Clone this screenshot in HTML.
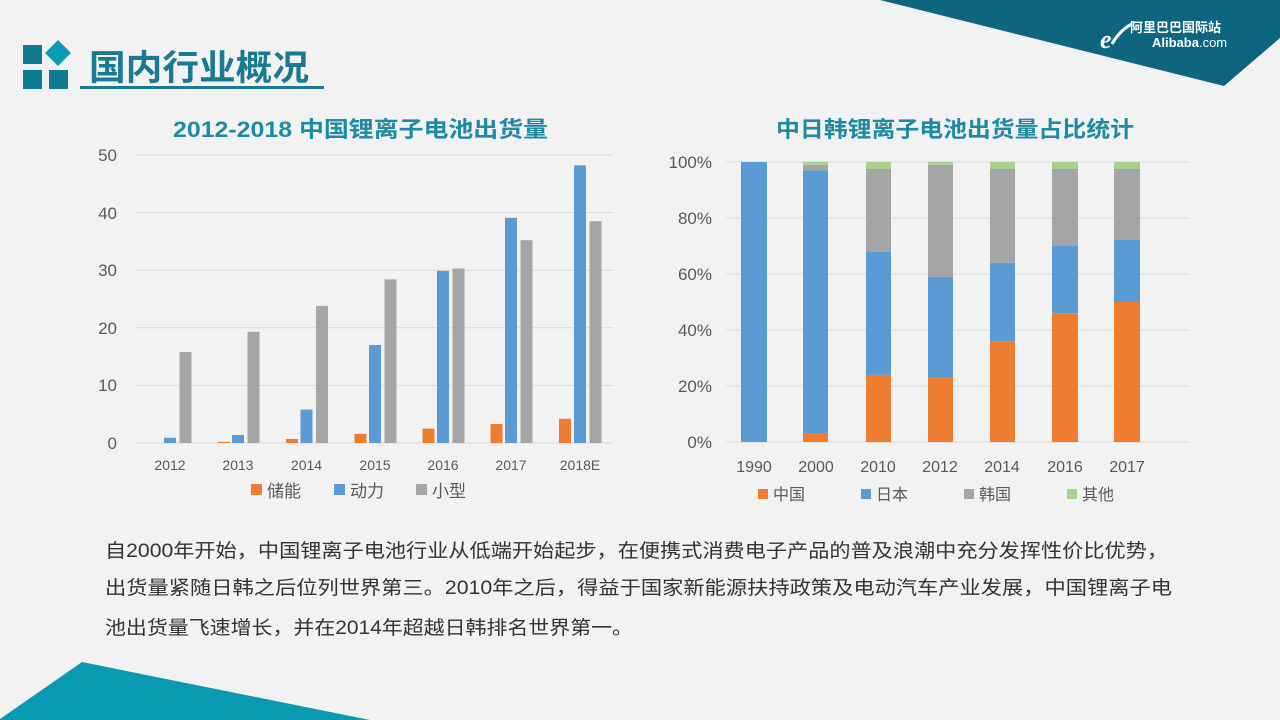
<!DOCTYPE html>
<html><head><meta charset="utf-8"><style>
html,body{margin:0;padding:0;background:#f2f2f2;}
svg{display:block;font-family:"Liberation Sans","Noto Sans CJK SC",sans-serif;}
</style></head><body>
<svg width="1280" height="720" viewBox="0 0 1280 720" xmlns="http://www.w3.org/2000/svg">
<rect width="1280" height="720" fill="#f2f2f2"/>
<polygon points="880,0 1280,0 1280,38 1224,86" fill="#0e6580"/>
<text x="1130" y="32" fill="#fff" font-size="13" font-weight="bold" font-family="Noto Sans CJK SC,sans-serif">阿里巴巴国际站</text>
<text x="1152" y="47" fill="#fff" font-size="13" font-weight="bold">Alibaba<tspan font-weight="normal">.com</tspan></text>
<text x="1100" y="48" fill="#fff" font-size="26" font-style="italic" font-weight="bold" font-family="Liberation Serif,serif">e</text>
<path d="M1112,44 q8,-14 20,-20" stroke="#fff" stroke-width="3" fill="none"/>
<polygon points="0,719 82,662 370,720 0,720" fill="#0a9bb3"/>
<rect x="23" y="45" width="19" height="19" fill="#0e7a93"/>
<rect x="23" y="70" width="19" height="19" fill="#0e7a93"/>
<rect x="49" y="70" width="19" height="19" fill="#0e7a93"/>
<polygon points="58,40 71,53 58,66 45,53" fill="#0a9bb3"/>
<text x="89" y="80" font-size="35" font-weight="bold" fill="#1a7a92" font-family="Noto Sans CJK SC,sans-serif" textLength="220" lengthAdjust="spacingAndGlyphs">国内行业概况</text>
<rect x="80" y="86" width="244" height="3" fill="#1a7a92"/>
<text x="173" y="137" font-size="22" font-weight="bold" fill="#1f8aa3" textLength="375" lengthAdjust="spacingAndGlyphs">2012-2018 中国锂离子电池出货量</text>
<text x="776" y="137" font-size="22" font-weight="bold" fill="#1f8aa3" textLength="358" lengthAdjust="spacingAndGlyphs">中日韩锂离子电池出货量占比统计</text>
<g stroke="#d9d9d9" stroke-width="1">
<line x1="136" x2="613" y1="155" y2="155"/><line x1="136" x2="613" y1="212.6" y2="212.6"/><line x1="136" x2="613" y1="270.2" y2="270.2"/><line x1="136" x2="613" y1="327.8" y2="327.8"/><line x1="136" x2="613" y1="385.4" y2="385.4"/><line x1="136" x2="613" y1="443" y2="443"/>
<line x1="726" x2="1190" y1="162" y2="162"/><line x1="726" x2="1190" y1="218" y2="218"/><line x1="726" x2="1190" y1="274" y2="274"/><line x1="726" x2="1190" y1="330" y2="330"/><line x1="726" x2="1190" y1="386" y2="386"/><line x1="726" x2="1190" y1="442" y2="442"/>
</g>
<g font-size="17" fill="#595959" text-anchor="end">
<text x="117" y="161">50</text><text x="117" y="219">40</text><text x="117" y="276">30</text><text x="117" y="334">20</text><text x="117" y="391">10</text><text x="117" y="449">0</text>
<text x="712" y="168">100%</text><text x="712" y="224">80%</text><text x="712" y="280">60%</text><text x="712" y="336">40%</text><text x="712" y="392">20%</text><text x="712" y="448">0%</text>
</g>
<g font-size="14" fill="#595959" text-anchor="middle">
<text x="170" y="470">2012</text><text x="238" y="470">2013</text><text x="306.5" y="470">2014</text><text x="375" y="470">2015</text><text x="443" y="470">2016</text><text x="511" y="470">2017</text><text x="580" y="470">2018E</text>
</g>
<g font-size="16" fill="#595959" text-anchor="middle">
<text x="754" y="472">1990</text><text x="816" y="472">2000</text><text x="878" y="472">2010</text><text x="940" y="472">2012</text><text x="1002" y="472">2014</text><text x="1065" y="472">2016</text><text x="1127" y="472">2017</text>
</g>
<g font-size="17" fill="#595959">
<rect x="251" y="484" width="11" height="11" fill="#ed7d31"/><text x="267" y="497">储能</text>
<rect x="334" y="484" width="11" height="11" fill="#5b9bd5"/><text x="350" y="497">动力</text>
<rect x="416" y="484" width="11" height="11" fill="#a5a5a5"/><text x="432" y="497">小型</text>
</g>
<g font-size="16" fill="#595959">
<rect x="758" y="489" width="10" height="10" fill="#ed7d31"/><text x="773" y="500">中国</text>
<rect x="861" y="489" width="10" height="10" fill="#5b9bd5"/><text x="876" y="500">日本</text>
<rect x="964" y="489" width="10" height="10" fill="#a5a5a5"/><text x="979" y="500">韩国</text>
<rect x="1067" y="489" width="10" height="10" fill="#a9d18e"/><text x="1082" y="500">其他</text>
</g>
<g font-size="19" fill="#333">
<text x="105" y="557" textLength="1063" lengthAdjust="spacingAndGlyphs">自2000年开始，中国锂离子电池行业从低端开始起步，在便携式消费电子产品的普及浪潮中充分发挥性价比优势，</text>
<text x="105" y="594" textLength="1067" lengthAdjust="spacingAndGlyphs">出货量紧随日韩之后位列世界第三。2010年之后，得益于国家新能源扶持政策及电动汽车产业发展，中国锂离子电</text>
<text x="105" y="634" textLength="528" lengthAdjust="spacingAndGlyphs">池出货量飞速增长，并在2014年超越日韩排名世界第一。</text>
</g>
<g fill="#ed7d31">
<rect x="218" y="441.8" width="12" height="1.2"/>
<rect x="286" y="439" width="12" height="4"/>
<rect x="354.5" y="433.8" width="12" height="9.2"/>
<rect x="422.5" y="428.6" width="12" height="14.4"/>
<rect x="490.5" y="424" width="12" height="19"/>
<rect x="559" y="418.8" width="12" height="24.2"/>
</g>
<g fill="#5b9bd5">
<rect x="164" y="437.8" width="12" height="5.2"/>
<rect x="232" y="435" width="12" height="8"/>
<rect x="300.5" y="409.6" width="12" height="33.4"/>
<rect x="369" y="345" width="12" height="98"/>
<rect x="437" y="270.8" width="12" height="172.2"/>
<rect x="505" y="217.8" width="12" height="225.2"/>
<rect x="574" y="165.4" width="12" height="277.6"/>
</g>
<g fill="#a5a5a5">
<rect x="179.5" y="352" width="12" height="91"/>
<rect x="247.5" y="331.8" width="12" height="111.2"/>
<rect x="316" y="305.9" width="12" height="137.1"/>
<rect x="384.5" y="279.4" width="12" height="163.6"/>
<rect x="452.5" y="268.5" width="12" height="174.5"/>
<rect x="520.5" y="240.2" width="12" height="202.8"/>
<rect x="589.5" y="221.2" width="12" height="221.8"/>
</g>
<g>
<rect x="741" y="162" width="26" height="280" fill="#5b9bd5"/>
<rect x="803" y="433.6" width="25" height="8.4" fill="#ed7d31"/>
<rect x="803" y="170.4" width="25" height="263.2" fill="#5b9bd5"/>
<rect x="803" y="164.8" width="25" height="5.6" fill="#a5a5a5"/>
<rect x="803" y="162" width="25" height="2.8" fill="#a9d18e"/>
<rect x="866" y="374.8" width="25" height="67.2" fill="#ed7d31"/>
<rect x="866" y="251.6" width="25" height="123.2" fill="#5b9bd5"/>
<rect x="866" y="169" width="25" height="82.6" fill="#a5a5a5"/>
<rect x="866" y="162" width="25" height="7" fill="#a9d18e"/>
<rect x="928" y="377.6" width="25" height="64.4" fill="#ed7d31"/>
<rect x="928" y="276.8" width="25" height="100.8" fill="#5b9bd5"/>
<rect x="928" y="164.8" width="25" height="112" fill="#a5a5a5"/>
<rect x="928" y="162" width="25" height="2.8" fill="#a9d18e"/>
<rect x="990" y="341.2" width="25" height="100.8" fill="#ed7d31"/>
<rect x="990" y="262.8" width="25" height="78.4" fill="#5b9bd5"/>
<rect x="990" y="169" width="25" height="93.8" fill="#a5a5a5"/>
<rect x="990" y="162" width="25" height="7" fill="#a9d18e"/>
<rect x="1052" y="313.2" width="26" height="128.8" fill="#ed7d31"/>
<rect x="1052" y="246" width="26" height="67.2" fill="#5b9bd5"/>
<rect x="1052" y="169" width="26" height="77" fill="#a5a5a5"/>
<rect x="1052" y="162" width="26" height="7" fill="#a9d18e"/>
<rect x="1114" y="302" width="26" height="140" fill="#ed7d31"/>
<rect x="1114" y="240" width="26" height="62" fill="#5b9bd5"/>
<rect x="1114" y="169" width="26" height="71" fill="#a5a5a5"/>
<rect x="1114" y="162" width="26" height="7" fill="#a9d18e"/>
</g>
</svg>
</body></html>
